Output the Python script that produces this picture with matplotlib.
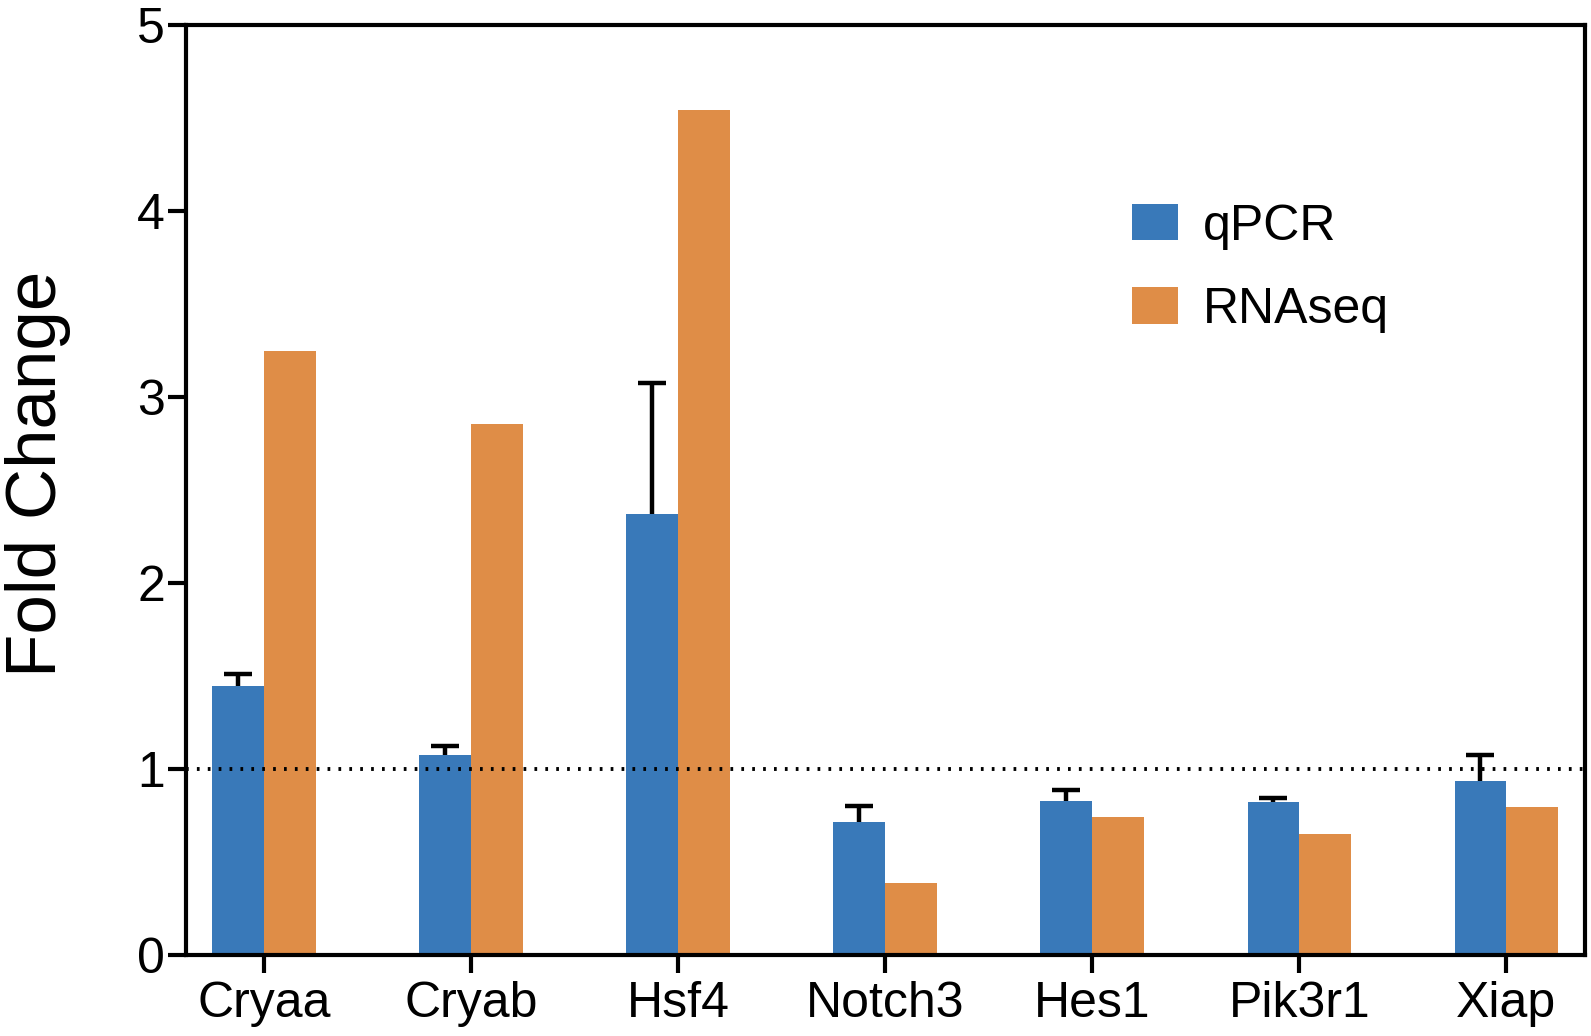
import matplotlib.pyplot as plt
import numpy as np

plt.rcParams["font.family"] = ["Liberation Sans", "DejaVu Sans"]

genes = ["Cryaa", "Cryab", "Hsf4", "Notch3", "Hes1", "Pik3r1", "Xiap"]
qpcr = [1.445, 1.075, 2.37, 0.715, 0.828, 0.822, 0.936]
qpcr_err = [0.065, 0.05, 0.705, 0.085, 0.058, 0.024, 0.14]
rnaseq = [3.245, 2.855, 4.545, 0.387, 0.744, 0.652, 0.796]

blue = "#3979B9"
orange = "#DF8D47"

fig = plt.figure(figsize=(15.91, 10.36), dpi=100)
ax = fig.add_axes([186 / 1591, 1 - 955 / 1036, (1585 - 186) / 1591, (955 - 25) / 1036])

x = np.arange(len(genes))
w = 0.25
ax.bar(x - w / 2, qpcr, w, color=blue, label="qPCR", zorder=2)
ax.bar(x + w / 2, rnaseq, w, color=orange, label="RNAseq", zorder=2)
eb = ax.errorbar(x - w / 2, qpcr, yerr=[np.zeros(len(qpcr)), qpcr_err], fmt="none",
                 ecolor="black", elinewidth=3.2, capsize=10, capthick=3.2, zorder=3)
# only the upper cap, like the original
eb[1][0].set_visible(False)

ax.axhline(1, color="black", lw=2.8, linestyle=(0, (0.7, 2.1)), zorder=4)

ax.set_xlim(-0.377, 6.38)
ax.set_ylim(0, 5)
ax.set_yticks([0, 1, 2, 3, 4, 5])
ax.set_xticks(x)
ax.set_xticklabels(genes)
ax.set_ylabel("Fold Change", fontsize=51)
ax.yaxis.set_label_coords(-0.082, 0.517)

for s in ax.spines.values():
    s.set_linewidth(3)
ax.tick_params(axis="both", labelsize=36, width=3, length=13, direction="out")
ax.tick_params(axis="y", pad=2)
ax.tick_params(axis="x", pad=6)

ax.legend(loc="upper left", bbox_to_anchor=(0.676, 0.808), frameon=False, fontsize=36,
          handlelength=0.93, handleheight=0.75, handletextpad=0.5, labelspacing=0.75,
          borderpad=0, borderaxespad=0)

fig.savefig("out.png", dpi=100)
